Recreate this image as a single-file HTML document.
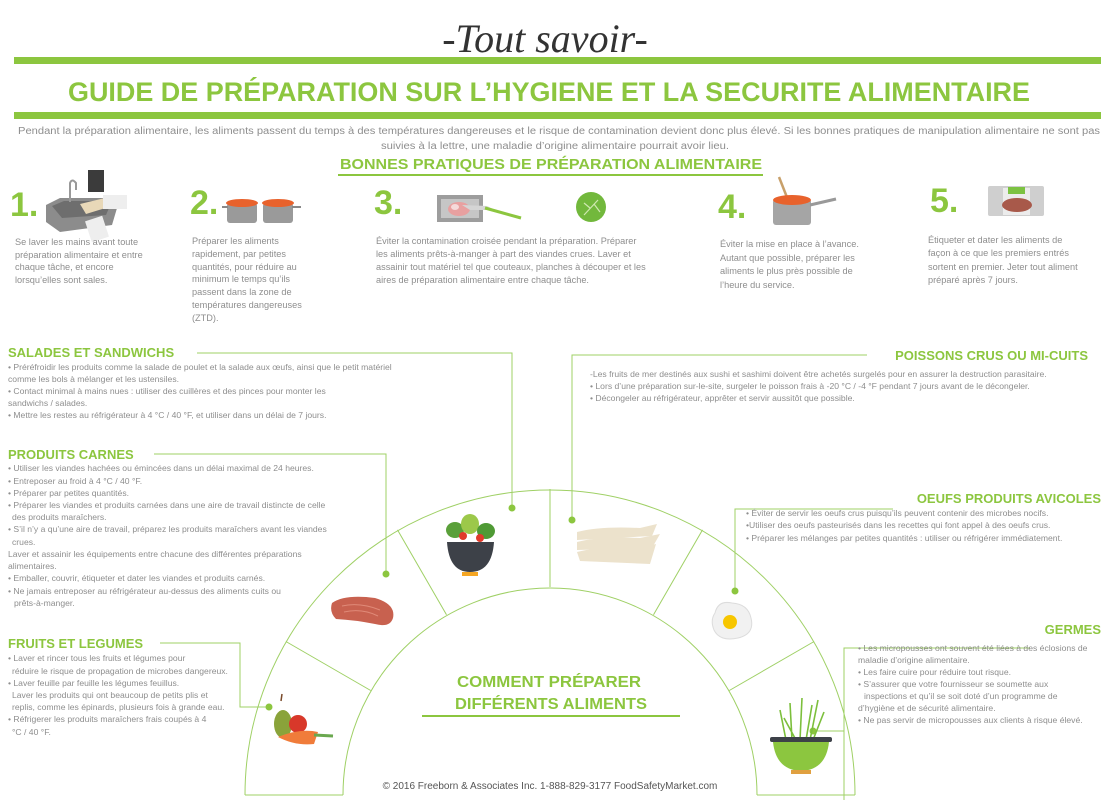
<!DOCTYPE html>
<html><head><meta charset="utf-8"><style>
html,body{margin:0;padding:0;background:#fff;}
svg{display:block;}
.b{font-family:"Liberation Sans",sans-serif;font-size:8.6px;fill:#8e8e8e;}
.s{font-family:"Liberation Sans",sans-serif;font-size:9.2px;fill:#8e8e8e;}
.h{font-family:"Liberation Sans",sans-serif;font-weight:bold;font-size:13px;fill:#8cc63f;}
.n{font-family:"Liberation Sans",sans-serif;font-weight:bold;font-size:34px;fill:#8cc63f;}
.ln{stroke:#9fd065;stroke-width:1;fill:none;}
</style></head><body>
<svg width="1119" height="800" viewBox="0 0 1119 800" xmlns="http://www.w3.org/2000/svg">
<!-- header -->
<text x="545" y="52" text-anchor="middle" font-family="Liberation Serif,serif" font-style="italic" font-size="40" fill="#333">-Tout savoir-</text>
<rect x="14" y="57" width="1087" height="7" fill="#8cc63f"/>
<text x="68" y="101" textLength="962" lengthAdjust="spacingAndGlyphs" font-family="Liberation Sans,sans-serif" font-weight="bold" font-size="27" fill="#8cc63f">GUIDE DE PRÉPARATION  SUR L’HYGIENE ET LA SECURITE ALIMENTAIRE</text>
<rect x="14" y="112" width="1087" height="7" fill="#8cc63f"/>
<text x="18" y="134" textLength="1082" lengthAdjust="spacingAndGlyphs" font-family="Liberation Sans,sans-serif" font-size="10" fill="#8e8e8e">Pendant la préparation alimentaire, les aliments passent du temps à des températures dangereuses et le risque de contamination devient donc plus élevé.  Si les bonnes pratiques de manipulation alimentaire ne sont pas</text>
<text x="381" y="149" textLength="348" lengthAdjust="spacingAndGlyphs" font-family="Liberation Sans,sans-serif" font-size="10" fill="#8e8e8e">suivies à la lettre, une maladie d’origine alimentaire pourrait avoir lieu.</text>
<text x="340" y="169" textLength="422" lengthAdjust="spacingAndGlyphs" font-family="Liberation Sans,sans-serif" font-weight="bold" font-size="15" fill="#8cc63f">BONNES PRATIQUES DE PRÉPARATION ALIMENTAIRE</text>
<rect x="338" y="174" width="425" height="2" fill="#8cc63f"/>

<!-- step numbers -->
<text class="n" x="10" y="216">1.</text>
<text class="n" x="190" y="214">2.</text>
<text class="n" x="374" y="214">3.</text>
<text class="n" x="718" y="218">4.</text>
<text class="n" x="930" y="212">5.</text>

<!-- step icons -->
<g>
<rect x="88" y="170" width="16" height="22" fill="#3b3b3b"/>
<path d="M46 205 L60 198 L120 198 L112 225 L60 232 L46 222 Z" fill="#8c8c8c"/>
<path d="M52 206 L64 201 L112 201 L106 215 L62 218 Z" fill="#6e6e6e"/>
<path d="M70 202 L70 183 Q72 178 76 183 L76 190" stroke="#999" stroke-width="2" fill="none"/>
<path d="M80 204 L105 198 L112 206 L86 214 Z" fill="#e8d8b8"/>
<rect x="103" y="195" width="24" height="14" fill="#eeeeee"/>
<rect x="88" y="218" width="18" height="22" fill="#eeeeee" transform="rotate(-18 97 229)"/>
</g>
<g>
<rect x="227" y="203" width="30" height="20" rx="3" fill="#9a9a9a"/>
<ellipse cx="242" cy="203" rx="16" ry="4" fill="#e8622c"/>
<rect x="263" y="203" width="30" height="20" rx="3" fill="#9a9a9a"/>
<ellipse cx="278" cy="203" rx="16" ry="4" fill="#e8622c"/>
<rect x="222" y="206" width="6" height="2" fill="#888"/><rect x="292" y="206" width="9" height="2" fill="#888"/>
</g>
<g>
<rect x="437" y="195" width="46" height="27" fill="#9d9d9d"/>
<rect x="441" y="199" width="38" height="19" fill="#c6c6c6"/>
<ellipse cx="459" cy="209" rx="11" ry="7" fill="#e8a0a0"/>
<ellipse cx="455" cy="207" rx="4" ry="3" fill="#f5dada"/>
<path d="M462 205 L487 206 L495 210 L470 210 Z" fill="#d5d5d5"/>
<path d="M485 208 L521 218" stroke="#8cc63f" stroke-width="3"/>
<circle cx="591" cy="207" r="15" fill="#72b83c"/>
<path d="M584 215 L598 200 M590 208 L584 203 M594 204 L600 212" stroke="#cfe8b0" stroke-width="1.2"/>
</g>
<g>
<path d="M779 177 L790 205" stroke="#c8a06a" stroke-width="2.5"/>
<rect x="773" y="199" width="38" height="26" rx="3" fill="#a5a5a5"/>
<ellipse cx="792" cy="200" rx="19" ry="5" fill="#e8622c"/>
<path d="M810 205 L836 199" stroke="#999" stroke-width="3"/>
</g>
<g>
<rect x="988" y="186" width="56" height="30" rx="2" fill="#cfcfcf"/>
<rect x="1003" y="188" width="27" height="27" fill="#ececec"/>
<rect x="1008" y="187" width="17" height="7" fill="#7cc242"/>
<ellipse cx="1017" cy="205" rx="15" ry="7" fill="#a8594a"/>
</g>

<!-- step texts -->
<g class="s">
<text x="15" y="245">Se laver les mains avant toute</text>
<text x="15" y="258">préparation alimentaire et entre</text>
<text x="15" y="270">chaque tâche, et encore</text>
<text x="15" y="283">lorsqu’elles sont sales.</text>
<text x="192" y="244">Préparer les aliments</text>
<text x="192" y="257">rapidement, par petites</text>
<text x="192" y="270">quantités, pour réduire au</text>
<text x="192" y="282">minimum le temps qu’ils</text>
<text x="192" y="295">passent dans la zone de</text>
<text x="192" y="308">températures dangereuses</text>
<text x="192" y="321">(ZTD).</text>
<text x="376" y="244">Éviter la contamination croisée pendant la préparation. Préparer</text>
<text x="376" y="257">les aliments prêts-à-manger à part des viandes crues. Laver et</text>
<text x="376" y="270">assainir tout matériel tel que couteaux, planches à découper et les</text>
<text x="376" y="283">aires de préparation alimentaire entre chaque tâche.</text>
<text x="720" y="247">Éviter la mise en place à l’avance.</text>
<text x="720" y="261">Autant que possible, préparer les</text>
<text x="720" y="274">aliments le plus près possible de</text>
<text x="720" y="288">l’heure du service.</text>
<text x="928" y="243">Étiqueter et dater les aliments de</text>
<text x="928" y="256">façon à ce que les premiers entrés</text>
<text x="928" y="270">sortent en premier. Jeter tout aliment</text>
<text x="928" y="283">préparé après 7 jours.</text>
</g>

<!-- arc -->
<g class="ln" style="stroke:#9fd065">
<path d="M245 795 A305 305 0 0 1 855 795"/>
<path d="M343 795 A207 207 0 0 1 757 795"/>
<path d="M245 795 L343 795 M757 795 L855 795"/>
<path d="M550 587 L550 489"/>
<path d="M446.5 614.7 L397.5 529.9"/>
<path d="M370.7 690.5 L285.9 641.5"/>
<path d="M653.5 614.7 L702.5 529.9"/>
<path d="M729.3 690.5 L814.1 641.5"/>
</g>

<!-- connectors -->
<g class="ln">
<path d="M197 353 L512 353 L512 508"/>
<path d="M154 454 L386 454 L386 574"/>
<path d="M160 643 L240 643 L240 707 L269 707"/>
<path d="M867 355 L572 355 L572 520"/>
<path d="M893 509 L735 509 L735 591"/>
<path d="M1030 648 L844 648 L844 800 M844 731 L813 731"/>
</g>
<g fill="#8cc63f">
<circle cx="512" cy="508" r="3.5"/><circle cx="386" cy="574" r="3.5"/><circle cx="269" cy="707" r="3.5"/>
<circle cx="572" cy="520" r="3.5"/><circle cx="735" cy="591" r="3.5"/><circle cx="813" cy="731" r="3.5"/>
</g>

<!-- arc icons -->
<g>
<ellipse cx="455" cy="530" rx="9" ry="8" fill="#5aa03a"/>
<ellipse cx="470" cy="524" rx="9" ry="10" fill="#9cc84a"/>
<ellipse cx="486" cy="531" rx="9" ry="8" fill="#4f9a35"/>
<circle cx="463" cy="536" r="4" fill="#e03b2b"/><circle cx="480" cy="538" r="4" fill="#e03b2b"/>
<path d="M447 542 L494 542 Q492 572 470 572 Q449 572 447 542 Z" fill="#3d4148"/>
<rect x="462" y="572" width="16" height="4" fill="#f5a623"/>
</g>
<path d="M332 603 Q345 594 375 598 Q396 604 393 618 Q390 628 375 624 Q355 620 336 619 Q329 612 332 603 Z" fill="#c8614f"/>
<path d="M342 606 Q360 602 380 610 M344 612 Q362 608 378 616" stroke="#e08a78" stroke-width="1" fill="none"/>
<g>
<path d="M281 701 L282 694" stroke="#7a4a2a" stroke-width="1.5"/>
<ellipse cx="283" cy="724" rx="9" ry="14" fill="#8aa33a"/>
<ellipse cx="298" cy="724" rx="9" ry="9" fill="#d8382a"/>
<path d="M278 737 Q300 728 318 732 L314 744 Q295 746 278 737 Z" fill="#f07c3a"/>
<path d="M314 735 L333 736" stroke="#6aa84f" stroke-width="3"/>
</g>
<g fill="#ece2cc">
<path d="M577 532 Q600 526 640 528 L657 524 L652 536 L577 540 Z"/>
<path d="M577 542 Q600 536 640 538 L660 534 L652 548 L577 550 Z"/>
<path d="M577 552 Q600 546 640 548 L656 544 L650 564 L580 561 Z"/>
</g>
<path d="M715 613 Q718 600 732 603 Q748 604 751 618 Q755 634 738 638 Q720 642 714 630 Q710 620 715 613 Z" fill="#f1f1f1" stroke="#dcdcdc" stroke-width="1"/>
<circle cx="730" cy="622" r="7" fill="#f7c600"/>
<g>
<path d="M786 740 L780 710 M792 740 L790 703 M800 740 L802 698 M806 740 L812 705 M813 740 L824 712 M796 740 L784 718 M810 740 L818 700" stroke="#7cbf3c" stroke-width="1.6"/>
<rect x="770" y="737" width="62" height="5" rx="2" fill="#3d4148"/>
<path d="M773 742 L829 742 Q826 770 801 771 Q776 770 773 742 Z" fill="#8cc63f"/>
<rect x="791" y="770" width="20" height="4" fill="#e0a040"/>
</g>

<!-- centre title -->
<text x="549" y="687" text-anchor="middle" textLength="184" lengthAdjust="spacingAndGlyphs" font-family="Liberation Sans,sans-serif" font-weight="bold" font-size="16" fill="#8cc63f">COMMENT PRÉPARER</text>
<text x="551" y="709" text-anchor="middle" textLength="192" lengthAdjust="spacingAndGlyphs" font-family="Liberation Sans,sans-serif" font-weight="bold" font-size="16" fill="#8cc63f">DIFFÉRENTS ALIMENTS</text>
<rect x="422" y="715" width="258" height="2" fill="#8cc63f"/>
<text x="550" y="789" text-anchor="middle" font-family="Liberation Sans,sans-serif" font-size="10" fill="#555">© 2016 Freeborn &amp; Associates Inc. 1-888-829-3177 FoodSafetyMarket.com</text>

<!-- left headings & texts -->
<text class="h" x="8" y="357">SALADES ET SANDWICHS</text>
<g class="b">
<text x="8" y="370">• Préréfroidir les produits comme la salade de poulet et la salade aux œufs, ainsi que le petit matériel</text>
<text x="8" y="382">comme les bols à mélanger et les ustensiles.</text>
<text x="8" y="394">• Contact minimal à mains nues : utiliser des cuillères et des pinces pour monter les</text>
<text x="8" y="406">sandwichs / salades.</text>
<text x="8" y="418">• Mettre les restes au réfrigérateur à 4 °C / 40 °F, et utiliser dans un délai de 7 jours.</text>
</g>
<text class="h" x="8" y="459">PRODUITS CARNES</text>
<g class="b">
<text x="8" y="471">• Utiliser les viandes hachées ou émincées dans un délai maximal de 24 heures.</text>
<text x="8" y="484">• Entreposer au froid à 4 °C / 40 °F.</text>
<text x="8" y="496">• Préparer par petites quantités.</text>
<text x="8" y="508">• Préparer les viandes et produits carnées dans une aire de travail distincte de celle</text>
<text x="12" y="520">des produits maraîchers.</text>
<text x="8" y="532">• S’il n’y a qu’une aire de travail, préparez les produits maraîchers avant les viandes</text>
<text x="12" y="545">crues.</text>
<text x="8" y="557">Laver et assainir les équipements entre chacune des différentes préparations</text>
<text x="8" y="569">alimentaires.</text>
<text x="8" y="581">• Emballer, couvrir, étiqueter et dater les viandes et produits carnés.</text>
<text x="8" y="594">• Ne jamais entreposer au réfrigérateur au-dessus des aliments cuits ou</text>
<text x="14" y="606">prêts-à-manger.</text>
</g>
<text class="h" x="8" y="648">FRUITS ET LEGUMES</text>
<g class="b">
<text x="8" y="661">• Laver et rincer tous les fruits et légumes pour</text>
<text x="12" y="674">réduire le risque de propagation de microbes dangereux.</text>
<text x="8" y="686">• Laver feuille par feuille les légumes feuillus.</text>
<text x="12" y="698">Laver les produits qui ont beaucoup de petits plis et</text>
<text x="12" y="710">replis, comme les épinards, plusieurs fois à grande eau.</text>
<text x="8" y="722">• Réfrigerer les produits maraîchers frais coupés à 4</text>
<text x="12" y="735">°C / 40 °F.</text>
</g>

<!-- right headings & texts -->
<text class="h" x="1088" y="360" text-anchor="end">POISSONS CRUS OU MI-CUITS</text>
<g class="b">
<text x="590" y="377">-Les fruits de mer destinés aux sushi et sashimi doivent être achetés surgelés pour en assurer la destruction parasitaire.</text>
<text x="590" y="389">• Lors d’une préparation sur-le-site, surgeler le poisson frais à -20 °C / -4 °F pendant 7 jours avant de le décongeler.</text>
<text x="590" y="401">• Décongeler au réfrigérateur, apprêter et servir aussitôt que possible.</text>
</g>
<text class="h" x="1101" y="503" text-anchor="end">OEUFS PRODUITS AVICOLES</text>
<g class="b">
<text x="746" y="516">• Éviter de servir les oeufs crus puisqu’ils peuvent contenir des  microbes nocifs.</text>
<text x="746" y="528">•Utiliser des oeufs pasteurisés dans les recettes qui font appel à des oeufs crus.</text>
<text x="746" y="541">• Préparer les mélanges par petites quantités : utiliser ou réfrigérer immédiatement.</text>
</g>
<text class="h" x="1101" y="634" text-anchor="end">GERMES</text>
<g class="b">
<text x="858" y="651">• Les micropousses ont souvent été liées à des éclosions de</text>
<text x="858" y="663">maladie d’origine alimentaire.</text>
<text x="858" y="675">• Les faire cuire pour réduire tout risque.</text>
<text x="858" y="687">• S’assurer que votre fournisseur se soumette aux</text>
<text x="864" y="699">inspections et qu’il se soit doté d’un programme de</text>
<text x="858" y="711">d’hygiène et de sécurité alimentaire.</text>
<text x="858" y="723">• Ne pas servir de micropousses aux clients à risque élevé.</text>
</g>
</svg>
</body></html>
